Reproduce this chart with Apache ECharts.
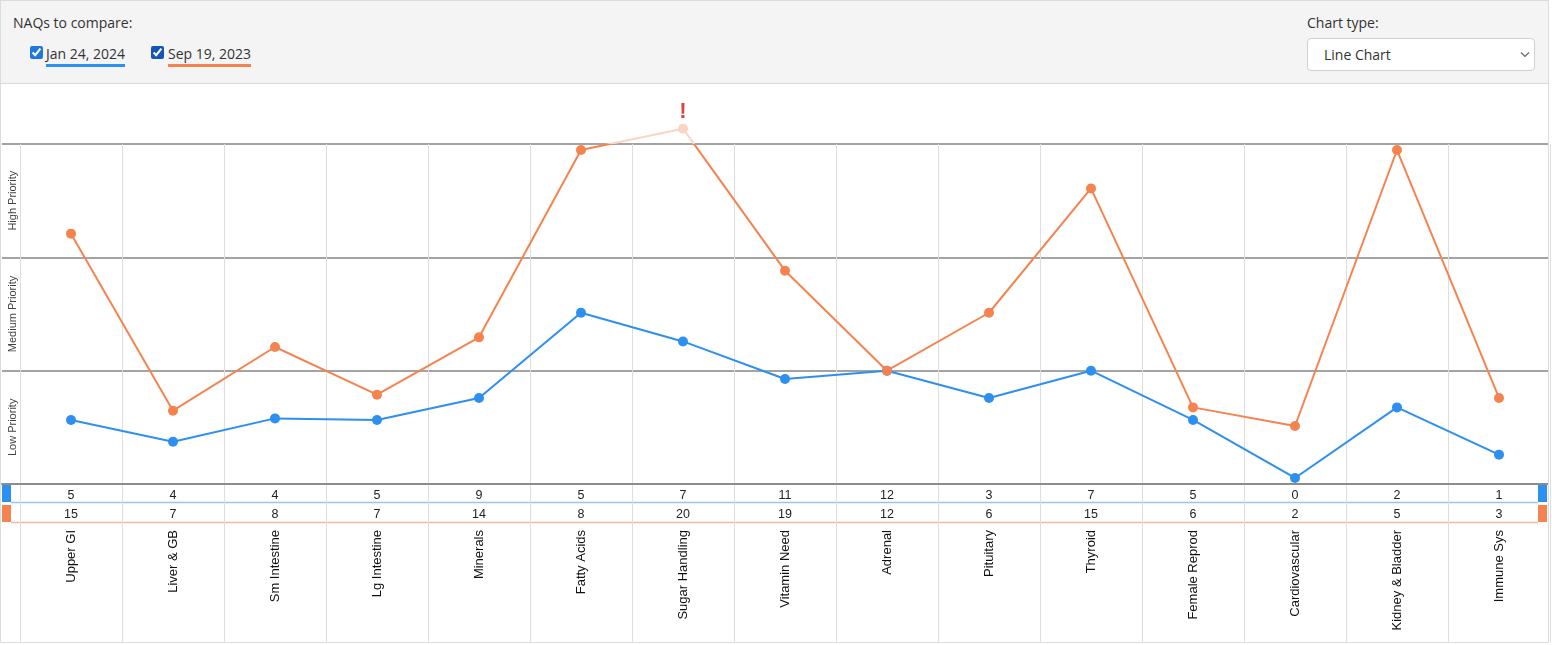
<!DOCTYPE html>
<html>
<head>
<meta charset="utf-8">
<script src="https://cdn.jsdelivr.net/npm/echarts@6/dist/echarts.min.js"></script>
<style>
html,body{margin:0;padding:0;background:#fff;width:1552px;height:645px;overflow:hidden;}
#chart{position:absolute;left:0;top:0;width:1552px;height:645px;z-index:0;}
#frame{position:absolute;left:0;top:0;width:1547px;height:641px;border:1px solid #dcdcdc;z-index:1;pointer-events:none;}
#header{position:absolute;left:1px;top:1px;width:1547px;height:82px;background:#f4f4f4;border-bottom:1px solid #dadada;font-family:'Open Sans',sans-serif;font-size:14px;color:#333;z-index:2;}
#header .t{position:absolute;line-height:20px;white-space:nowrap;}
#header input{position:absolute;margin:0;width:13px;height:13px;}
#header .lg{position:absolute;line-height:20px;border-bottom:3px solid;white-space:nowrap;}
#sel{position:absolute;left:1306px;top:37px;width:226px;height:31px;background:#fff;border:1px solid #d0d0d0;border-radius:4px;}
#sel span{position:absolute;left:16px;top:0;line-height:32px;color:#333;}
#sel svg{position:absolute;right:4px;top:12px;}
</style>
</head>
<body>
<div id="chart"></div>
<div id="frame"></div>
<div id="header">
  <div class="t" style="left:12px;top:12px;">NAQs to compare:</div>
  <input type="checkbox" id="cb0" checked style="left:29px;top:45px;accent-color:#1f78e0;">
  <div class="lg" id="lg0" style="left:45px;top:43px;"></div>
  <input type="checkbox" id="cb1" checked style="left:150px;top:45px;accent-color:#1455b8;">
  <div class="lg" id="lg1" style="left:167px;top:43px;"></div>
  <div class="t" style="left:1306px;top:12px;">Chart type:</div>
  <div id="sel"><span>Line Chart</span>
    <svg width="10" height="7" viewBox="0 0 10 7"><polyline points="1,1.5 5,5.5 9,1.5" fill="none" stroke="#666" stroke-width="1.2"/></svg>
  </div>
</div>
<script>
// ---- data ----
const categories = ['Upper GI','Liver & GB','Sm Intestine','Lg Intestine','Minerals','Fatty Acids','Sugar Handling','Vitamin Need','Adrenal','Pituitary','Thyroid','Female Reprod','Cardiovascular','Kidney & Bladder','Immune Sys'];
const seriesNames = ['Jan 24, 2024', 'Sep 19, 2023'];
const scoresJan = [5, 4, 4, 5, 9, 5, 7, 11, 12, 3, 7, 5, 0, 2, 1];
const scoresSep = [15, 7, 8, 7, 14, 8, 20, 19, 12, 6, 15, 6, 2, 5, 3];
const levelJan = [0.565, 0.373, 0.579, 0.565, 0.759, 1.511, 1.258, 0.926, 1.0, 0.759, 1.0, 0.565, 0.053, 0.676, 0.259];
const levelSep = [2.209, 0.647, 1.209, 0.788, 1.294, 2.947, 3.135, 1.882, 1.0, 1.511, 2.608, 0.676, 0.512, 2.947, 0.759];
const priorityBands = ['Low Priority', 'Medium Priority', 'High Priority'];
const bandMax = 3;

const BLUE = '#2d8ff0', ORANGE = '#f5834f', FADED = '#fbd4c4';
document.getElementById('lg0').textContent = seriesNames[0];
document.getElementById('lg0').style.borderColor = BLUE;
document.getElementById('lg1').textContent = seriesNames[1];
document.getElementById('lg1').style.borderColor = ORANGE;

const FONT = "'Liberation Sans', Arial, sans-serif";
const chart = echarts.init(document.getElementById('chart'), null, {renderer: 'canvas'});
const off = {show: false};
chart.setOption({
  animation: false,
  backgroundColor: 'transparent',
  textStyle: {fontFamily: FONT},
  grid: [
    {left: 2, right: 4, top: 144, height: 340},
    {left: 20, right: 2, top: 144, height: 340},
    {left: 20, right: 2, top: 484, bottom: 3}
  ],
  xAxis: [
    {gridIndex: 0, type: 'value', min: 0, max: 1, axisLine: {show: true, onZero: false, lineStyle: {color: '#8c8c8c', width: 2}}, axisTick: off, axisLabel: off, splitLine: off},
    {gridIndex: 1, type: 'category', data: categories, boundaryGap: true, position: 'bottom',
      axisLine: off, axisTick: {show: false, interval: 0},
      splitLine: {show: true, interval: 0, lineStyle: {color: '#dedede', width: 1}},
      axisLabel: {interval: 0, margin: 5, fontSize: 12.5, color: '#222', fontFamily: FONT,
        formatter: (v, i) => String(scoresJan[i])}},
    {gridIndex: 1, type: 'category', data: categories, boundaryGap: true, position: 'bottom', offset: 18,
      axisLine: off, axisTick: off, splitLine: off,
      axisLabel: {interval: 0, margin: 6, fontSize: 12.5, color: '#222', fontFamily: FONT,
        formatter: (v, i) => String(scoresSep[i])}},
    {gridIndex: 1, type: 'category', data: categories, boundaryGap: true, position: 'bottom', offset: 38,
      axisLine: off, axisTick: off, splitLine: off,
      axisLabel: {interval: 0, margin: 8, rotate: 90, fontSize: 13, color: '#111', fontFamily: FONT}},
    {gridIndex: 2, type: 'category', data: categories, boundaryGap: true,
      axisLine: off, axisTick: {show: false, interval: 0}, axisLabel: {show: false, interval: 0},
      splitLine: {show: true, interval: 0, lineStyle: {color: '#dedede', width: 1}}}
  ],
  yAxis: [
    {gridIndex: 0, type: 'category', data: priorityBands, boundaryGap: true,
      axisLine: off, axisTick: off,
      splitLine: {show: true, interval: 0, lineStyle: {color: '#a3a3a3', width: 2}},
      axisLabel: {inside: true, interval: 0, rotate: 90, margin: 5, fontSize: 11, color: '#444', fontFamily: FONT}},
    {gridIndex: 1, type: 'value', min: 0, max: bandMax, show: false},
    {gridIndex: 2, type: 'value', min: 0, max: 1, show: false}
  ],
  visualMap: {
    type: 'piecewise', show: false, seriesIndex: 1, dimension: 1,
    pieces: [{gte: -5, lte: bandMax, color: ORANGE}, {gt: bandMax, lte: 10, color: FADED}],
    outOfRange: {color: ORANGE}
  },
  graphic: [
    {type: 'rect', shape: {x: 2, y: 485, width: 9, height: 17}, style: {fill: BLUE}},
    {type: 'rect', shape: {x: 2, y: 505, width: 9, height: 17}, style: {fill: ORANGE}},
    {type: 'rect', shape: {x: 1538, y: 485, width: 9, height: 17}, style: {fill: BLUE}},
    {type: 'rect', shape: {x: 1538, y: 505, width: 9, height: 17}, style: {fill: ORANGE}},
    {type: 'line', shape: {x1: 11, y1: 502.5, x2: 1538, y2: 502.5}, style: {stroke: '#9fc2e8', lineWidth: 1.5}},
    {type: 'line', shape: {x1: 11, y1: 522.5, x2: 1538, y2: 522.5}, style: {stroke: '#f0b89f', lineWidth: 1.5}}
  ],
  series: [
    {name: seriesNames[0], type: 'line', xAxisIndex: 1, yAxisIndex: 1, data: levelJan,
      symbol: 'circle', symbolSize: 10, clip: false, color: BLUE,
      lineStyle: {width: 2, color: BLUE}, itemStyle: {color: BLUE},
      emphasis: {disabled: true}},
    {name: seriesNames[1], type: 'line', xAxisIndex: 1, yAxisIndex: 1, data: levelSep,
      symbol: 'circle', symbolSize: 10, clip: false, color: ORANGE,
      lineStyle: {width: 2},
      label: {show: true, position: 'top', distance: 1, color: '#d9463c', fontSize: 22, fontWeight: 'bold', fontFamily: FONT,
        formatter: p => (p.value > bandMax ? '!' : '')},
      emphasis: {disabled: true}}
  ]
});
</script>
</body>
</html>
